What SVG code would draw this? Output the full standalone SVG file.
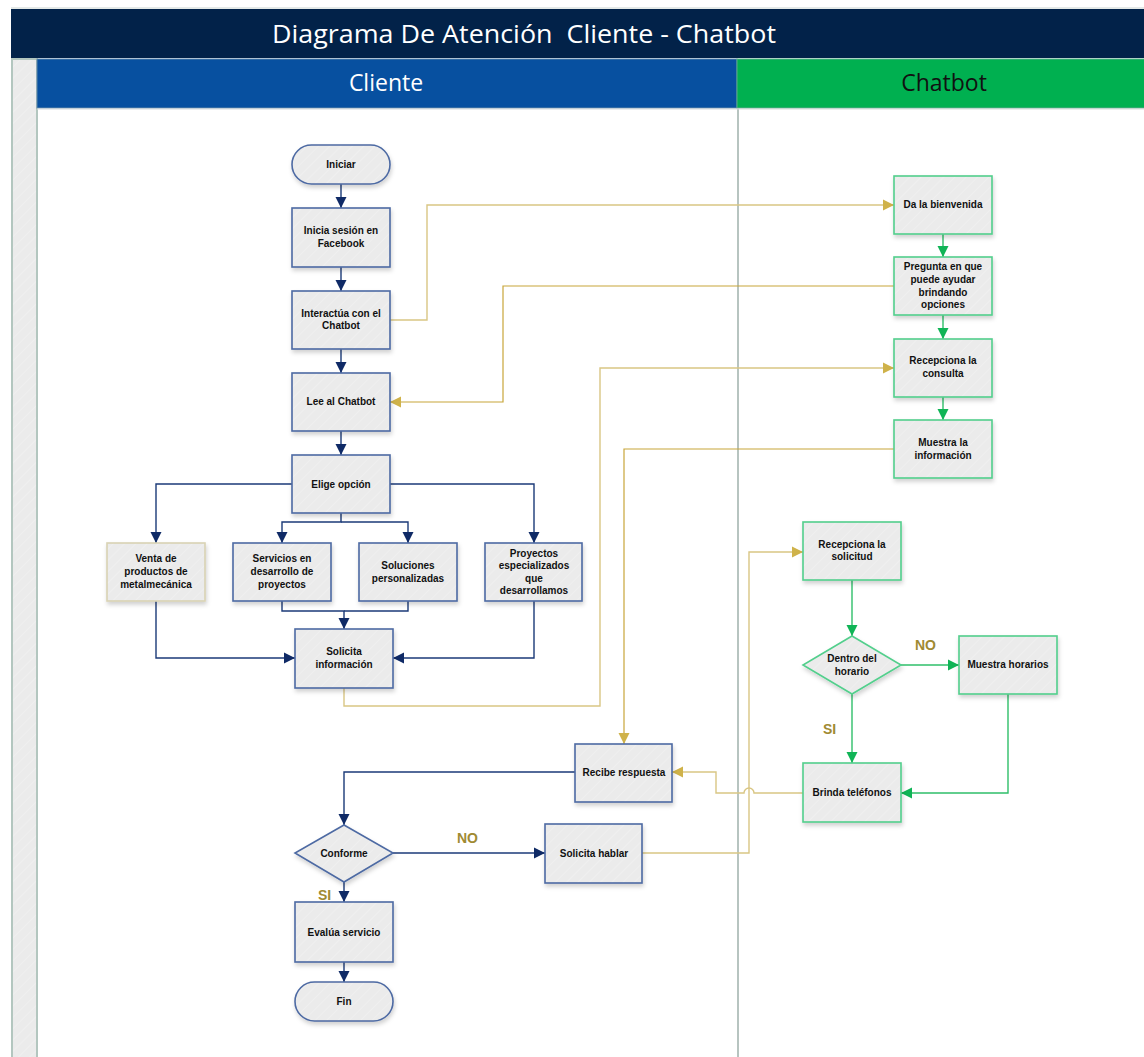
<svg xmlns="http://www.w3.org/2000/svg" width="1144" height="1057" viewBox="0 0 1144 1057">
<style>
.nt{font-family:"Liberation Sans",Arial,sans-serif;font-weight:bold;font-size:10px;fill:#111;text-anchor:middle}
.cn{fill:url(#hatch);stroke:#4d6aa3;stroke-width:1.6;filter:url(#sh)}
.gn{fill:url(#hatch);stroke:#52cf8c;stroke-width:1.6;filter:url(#sh)}
.tn{fill:url(#hatch);stroke:#d9d3b3;stroke-width:1.6;filter:url(#sh)}
.en{fill:none;stroke:#1b3a78;stroke-width:1.4}
.eg{fill:none;stroke:#2fbf6a;stroke-width:1.4}
.eo{fill:none;stroke:#d9c684;stroke-width:1.4}
.ed{fill:none;stroke:#c8a63a;stroke-width:1.2}
.lbl{font-family:"Liberation Sans",Arial,sans-serif;font-weight:bold;font-size:14px;fill:#a08a32}
.hd{font-family:"Open Sans","Noto Sans",sans-serif;font-size:23px;text-anchor:middle}
</style>
<defs>
<pattern id="hatch" width="8" height="8" patternUnits="userSpaceOnUse" patternTransform="rotate(45)">
<rect width="8" height="8" fill="#ebebeb"/>
<line x1="0" y1="0" x2="0" y2="8" stroke="#f1f1f1" stroke-width="1.5"/>
</pattern>
<filter id="sh" x="-10%" y="-10%" width="125%" height="130%">
<feDropShadow dx="1" dy="3" stdDeviation="2" flood-color="#000" flood-opacity="0.18"/>
</filter>
<marker id="an" markerUnits="userSpaceOnUse" markerWidth="12" markerHeight="12" refX="11" refY="6" orient="auto"><path d="M0,0.5 L11,6 L0,11.5 Z" fill="#0f2a66"/></marker>
<marker id="ag" markerUnits="userSpaceOnUse" markerWidth="12" markerHeight="12" refX="11" refY="6" orient="auto"><path d="M0,0.5 L11,6 L0,11.5 Z" fill="#10b456"/></marker>
<marker id="ao" markerUnits="userSpaceOnUse" markerWidth="12" markerHeight="12" refX="11" refY="6" orient="auto"><path d="M0,0.5 L11,6 L0,11.5 Z" fill="#cfb24a"/></marker>
</defs>
<rect width="1144" height="1057" fill="#fff"/>
<g id="pool">
<line x1="11" y1="8" x2="1144" y2="8" stroke="#c9d3d0" stroke-width="1"/>
<rect x="11" y="9" width="1133" height="49" fill="#022249"/>
<text x="524" y="43" font-family="'Open Sans','Noto Sans',sans-serif" font-size="26" fill="#fff" text-anchor="middle" textLength="504" lengthAdjust="spacingAndGlyphs" xml:space="preserve">Diagrama De Atención  Cliente - Chatbot</text>
<rect x="12" y="59" width="25" height="1000" fill="url(#hatch)" stroke="#b3c6bf" stroke-width="2"/>
<rect x="37" y="59" width="700" height="49" fill="#0750a0" stroke="#5f86a8" stroke-width="1"/>
<text class="hd" x="386" y="91" fill="#fff">Cliente</text>
<rect x="737" y="59" width="410" height="49" fill="#00b050" stroke="#5aa98a" stroke-width="1"/>
<text class="hd" x="944" y="91" fill="#111">Chatbot</text>
<line x1="738" y1="108" x2="738" y2="1057" stroke="#9fb1ab" stroke-width="1.5"/>
<line x1="37" y1="109" x2="1144" y2="109" stroke="#d8dcdc" stroke-width="1"/>
</g>
<g id="connectors">
<path class="en" d="M341,184 V208" marker-end="url(#an)"/>
<path class="en" d="M341,267 V291" marker-end="url(#an)"/>
<path class="en" d="M341,349 V373" marker-end="url(#an)"/>
<path class="en" d="M341,431 V455" marker-end="url(#an)"/>
<path class="en" d="M292,484 H156 V543" marker-end="url(#an)"/>
<path class="en" d="M390,484 H534 V543" marker-end="url(#an)"/>
<path class="en" d="M341,513 V522 H282 V543" marker-end="url(#an)"/>
<path class="en" d="M341,522 H408 V543" marker-end="url(#an)"/>
<path class="en" d="M282,601 V611 H344 V629" marker-end="url(#an)"/>
<path class="en" d="M408,601 V611 H344"/>
<path class="en" d="M156,601 V658 H295" marker-end="url(#an)"/>
<path class="en" d="M534,601 V658 H393" marker-end="url(#an)"/>
<path class="eo" d="M390,320 H427 V205 H894" marker-end="url(#ao)"/>
<path class="ed" d="M894,286 H503 V402 H390" marker-end="url(#ao)"/>
<path class="eo" d="M344,688 V706 H600 V368 H894" marker-end="url(#ao)"/>
<path class="ed" d="M894,449 H624 V744" marker-end="url(#ao)"/>
<path class="eg" d="M943,234 V257" marker-end="url(#ag)"/>
<path class="eg" d="M943,315 V339" marker-end="url(#ag)"/>
<path class="eg" d="M943,397 V420" marker-end="url(#ag)"/>
<path class="en" d="M575,772 H344 V825" marker-end="url(#an)"/>
<path class="en" d="M393,853 H545" marker-end="url(#an)"/>
<path class="en" d="M344,882 V902" marker-end="url(#an)"/>
<path class="en" d="M344,962 V982" marker-end="url(#an)"/>
<path class="eo" d="M642,853 H749 V552 H803" marker-end="url(#ao)"/>
<path class="eo" d="M803,793 H754 A5,5 0 0 0 744,793 H716 V772 H672" marker-end="url(#ao)"/>
<path class="eg" d="M852,580 V636" marker-end="url(#ag)"/>
<path class="eg" d="M901,665 H959" marker-end="url(#ag)"/>
<path class="eg" d="M852,694 V763" marker-end="url(#ag)"/>
<path class="eg" d="M1008,694 V793 H901" marker-end="url(#ag)"/>
<text class="lbl" x="457" y="843">NO</text>
<text class="lbl" x="318" y="900">SI</text>
<text class="lbl" x="915" y="650">NO</text>
<text class="lbl" x="823" y="734">SI</text>
</g>
<g id="n-iniciar"><rect class="cn" x="292" y="145" width="98" height="39" rx="19.5"/><text class="nt" x="341" y="168">Iniciar</text></g>
<g id="n-inicia-sesion"><rect class="cn" x="292" y="208" width="98" height="59"/><text class="nt" x="341" y="234">Inicia sesión en</text><text class="nt" x="341" y="247">Facebook</text></g>
<g id="n-interactua"><rect class="cn" x="292" y="291" width="98" height="58"/><text class="nt" x="341" y="317">Interactúa con el</text><text class="nt" x="341" y="329">Chatbot</text></g>
<g id="n-lee"><rect class="cn" x="292" y="373" width="98" height="58"/><text class="nt" x="341" y="405">Lee al Chatbot</text></g>
<g id="n-elige"><rect class="cn" x="292" y="455" width="98" height="58"/><text class="nt" x="341" y="488">Elige opción</text></g>
<g id="n-venta"><rect class="tn" x="107" y="543" width="98" height="58"/><text class="nt" x="156" y="562">Venta de</text><text class="nt" x="156" y="575">productos de</text><text class="nt" x="156" y="588">metalmecánica</text></g>
<g id="n-servicios"><rect class="cn" x="233" y="543" width="98" height="58"/><text class="nt" x="282" y="562">Servicios en</text><text class="nt" x="282" y="575">desarrollo de</text><text class="nt" x="282" y="588">proyectos</text></g>
<g id="n-soluciones"><rect class="cn" x="359" y="543" width="98" height="58"/><text class="nt" x="408" y="569">Soluciones</text><text class="nt" x="408" y="582">personalizadas</text></g>
<g id="n-proyectos"><rect class="cn" x="485" y="543" width="97" height="58"/><text class="nt" x="534" y="557">Proyectos</text><text class="nt" x="534" y="569">especializados</text><text class="nt" x="534" y="582">que</text><text class="nt" x="534" y="594">desarrollamos</text></g>
<g id="n-solicita-info"><rect class="cn" x="295" y="629" width="98" height="59"/><text class="nt" x="344" y="655">Solicita</text><text class="nt" x="344" y="668">información</text></g>
<g id="n-bienvenida"><rect class="gn" x="894" y="176" width="98" height="58"/><text class="nt" x="943" y="208">Da la bienvenida</text></g>
<g id="n-pregunta"><rect class="gn" x="894" y="257" width="98" height="58"/><text class="nt" x="943" y="270">Pregunta en que</text><text class="nt" x="943" y="283">puede ayudar</text><text class="nt" x="943" y="296">brindando</text><text class="nt" x="943" y="308">opciones</text></g>
<g id="n-recepciona-consulta"><rect class="gn" x="894" y="339" width="98" height="58"/><text class="nt" x="943" y="364">Recepciona la</text><text class="nt" x="943" y="377">consulta</text></g>
<g id="n-muestra-info"><rect class="gn" x="894" y="420" width="98" height="58"/><text class="nt" x="943" y="446">Muestra la</text><text class="nt" x="943" y="459">información</text></g>
<g id="n-recepciona-solicitud"><rect class="gn" x="803" y="522" width="98" height="58"/><text class="nt" x="852" y="548">Recepciona la</text><text class="nt" x="852" y="560">solicitud</text></g>
<g id="n-dentro"><path class="gn" d="M852,636 L901,665 L852,694 L803,665 Z"/><text class="nt" x="852" y="662">Dentro del</text><text class="nt" x="852" y="675">horario</text></g>
<g id="n-muestra-horarios"><rect class="gn" x="959" y="636" width="98" height="58"/><text class="nt" x="1008" y="668">Muestra horarios</text></g>
<g id="n-brinda"><rect class="gn" x="803" y="763" width="98" height="59"/><text class="nt" x="852" y="796">Brinda teléfonos</text></g>
<g id="n-recibe"><rect class="cn" x="575" y="744" width="97" height="58"/><text class="nt" x="624" y="776">Recibe respuesta</text></g>
<g id="n-conforme"><path class="cn" d="M344,825 L393,853 L344,882 L295,853 Z"/><text class="nt" x="344" y="857">Conforme</text></g>
<g id="n-solicita-hablar"><rect class="cn" x="545" y="824" width="97" height="59"/><text class="nt" x="594" y="857">Solicita hablar</text></g>
<g id="n-evalua"><rect class="cn" x="295" y="902" width="98" height="60"/><text class="nt" x="344" y="936">Evalúa servicio</text></g>
<g id="n-fin"><rect class="cn" x="295" y="982" width="98" height="39" rx="19.5"/><text class="nt" x="344" y="1005">Fin</text></g>
</svg>
